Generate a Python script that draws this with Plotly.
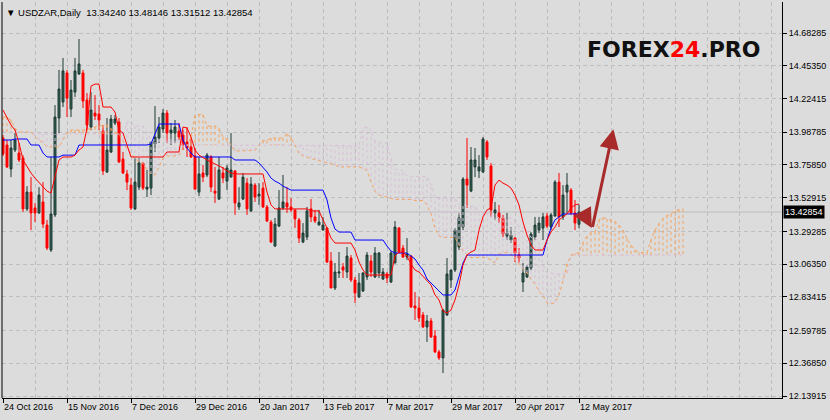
import plotly.graph_objects as go

# ---------------- data ----------------
symbol_title = "USDZAR,Daily"
last_ohlc_text = "13.34240 13.48146 13.31512 13.42854"
last_price = 13.42854

date_labels = ["24 Oct 2016", "15 Nov 2016", "7 Dec 2016", "29 Dec 2016", "20 Jan 2017",
               "13 Feb 2017", "7 Mar 2017", "29 Mar 2017", "20 Apr 2017", "12 May 2017"]
date_label_bars = [0, 16, 32, 48, 64, 80, 96, 112, 128, 144]

price_ticks = [14.68285, 14.45350, 14.22415, 13.98785, 13.75850, 13.52915, 13.29285,
               13.06350, 12.83415, 12.59785, 12.36850, 12.13915]

open_ = [13.947, 13.898, 13.730, 13.863, 13.842, 13.807, 13.450, 13.568, 13.457, 13.422,
         13.499, 13.337, 13.162, 13.408, 14.087, 14.199, 14.403, 14.150, 14.269, 14.396,
         14.403, 14.213, 14.024, 14.122, 14.115, 13.996, 13.709, 13.849, 14.052, 14.059,
         13.800, 13.695, 13.617, 13.450, 13.603, 13.772, 13.589, 13.596, 13.905, 13.947,
         14.010, 14.122, 13.982, 13.982, 13.996, 13.968, 13.919, 13.884, 13.821, 13.568,
         13.702, 13.688, 13.814, 13.575, 13.519, 13.702, 13.645, 13.673, 13.716, 13.464,
         13.519, 13.631, 13.436, 13.617, 13.540, 13.596, 13.464, 13.358, 13.190, 13.330,
         13.457, 13.492, 13.464, 13.443, 13.373, 13.218, 13.253, 13.450, 13.394, 13.337,
         13.302, 13.316, 13.085, 12.896, 13.001, 13.043, 13.008, 13.106, 12.952, 12.833,
         12.875, 12.973, 13.085, 12.973, 13.001, 12.959, 12.994, 12.938, 13.071, 13.316,
         13.176, 13.113, 13.120, 12.770, 12.756, 12.707, 12.623, 12.665, 12.560, 12.448,
         12.406, 12.707, 12.952, 13.022, 13.183, 13.323, 13.659, 13.575, 13.744, 13.716,
         13.709, 13.919, 13.751, 13.422, 13.422, 13.387, 13.260, 13.232, 13.246, 13.127,
         12.938, 12.973, 13.036, 13.253, 13.302, 13.316, 13.401, 13.323, 13.401, 13.638,
         13.394, 13.568, 13.582, 13.422, 13.3424]

high = [13.968, 13.933, 13.933, 13.982, 13.912, 13.827, 13.610, 13.673, 13.492, 13.603,
        13.638, 13.373, 13.814, 14.178, 14.424, 14.508, 14.424, 14.353, 14.508, 14.641,
        14.424, 14.262, 14.269, 14.248, 14.178, 14.038, 14.087, 14.108, 14.108, 14.087,
        13.849, 13.723, 13.666, 13.807, 13.807, 13.779, 13.723, 13.919, 14.171, 14.094,
        14.150, 14.143, 14.052, 14.073, 14.052, 14.003, 14.024, 13.947, 13.877, 13.814,
        13.758, 13.842, 13.827, 13.744, 13.814, 13.744, 13.758, 13.982, 13.723, 13.603,
        13.702, 13.666, 13.673, 13.631, 13.631, 13.638, 13.478, 13.373, 13.387, 13.582,
        13.688, 13.603, 13.526, 13.443, 13.387, 13.351, 13.464, 13.519, 13.443, 13.443,
        13.394, 13.323, 13.148, 13.071, 13.148, 13.071, 13.183, 13.127, 12.973, 13.001,
        13.008, 13.148, 13.127, 13.183, 13.148, 13.036, 13.008, 13.155, 13.365, 13.323,
        13.197, 13.246, 13.127, 12.868, 12.833, 12.728, 12.707, 12.686, 12.602, 12.462,
        12.749, 13.106, 13.022, 13.316, 13.422, 13.673, 13.947, 13.884, 13.877, 13.827,
        13.954, 13.933, 13.772, 13.499, 13.478, 13.408, 13.422, 13.323, 13.253, 13.176,
        13.071, 13.057, 13.288, 13.394, 13.394, 13.422, 13.422, 13.422, 13.652, 13.702,
        13.617, 13.702, 13.596, 13.513, 13.48146]

low = [13.821, 13.737, 13.673, 13.849, 13.779, 13.429, 13.436, 13.302, 13.358, 13.415,
       13.316, 13.162, 13.148, 13.394, 13.982, 14.164, 14.094, 14.094, 14.234, 14.389,
       14.157, 14.003, 14.003, 14.073, 14.003, 13.688, 13.702, 13.842, 14.038, 13.772,
       13.695, 13.582, 13.443, 13.443, 13.582, 13.582, 13.533, 13.547, 13.849, 13.912,
       13.982, 13.912, 13.898, 13.912, 13.933, 13.863, 13.814, 13.807, 13.582, 13.540,
       13.638, 13.673, 13.568, 13.492, 13.513, 13.631, 13.582, 13.673, 13.408, 13.443,
       13.513, 13.408, 13.429, 13.499, 13.478, 13.457, 13.358, 13.211, 13.183, 13.323,
       13.443, 13.422, 13.429, 13.316, 13.211, 13.211, 13.232, 13.358, 13.351, 13.337,
       13.302, 13.071, 12.896, 12.882, 12.966, 12.966, 12.966, 12.938, 12.791, 12.826,
       12.868, 12.952, 12.973, 12.966, 12.966, 12.952, 12.931, 12.931, 13.071, 13.141,
       13.106, 13.092, 12.756, 12.672, 12.658, 12.616, 12.518, 12.546, 12.441, 12.392,
       12.300, 12.700, 12.896, 13.008, 13.162, 13.302, 13.457, 13.568, 13.673, 13.666,
       13.702, 13.793, 13.394, 13.373, 13.351, 13.253, 13.232, 13.211, 13.078, 13.071,
       12.868, 12.966, 13.022, 13.232, 13.281, 13.232, 13.316, 13.302, 13.394, 13.323,
       13.373, 13.422, 13.408, 13.302, 13.31512]

close = [13.835, 13.744, 13.877, 13.933, 13.793, 13.450, 13.568, 13.422, 13.422, 13.547,
         13.344, 13.176, 13.415, 14.094, 14.290, 14.417, 14.227, 14.283, 14.417, 14.466,
         14.206, 14.038, 14.143, 14.101, 14.073, 13.716, 13.863, 14.080, 14.080, 13.779,
         13.702, 13.638, 13.457, 13.638, 13.772, 13.596, 13.603, 13.919, 13.954, 14.024,
         14.122, 13.982, 14.003, 14.024, 13.954, 13.898, 13.877, 13.814, 13.589, 13.695,
         13.673, 13.827, 13.603, 13.561, 13.723, 13.666, 13.737, 13.723, 13.492, 13.492,
         13.673, 13.450, 13.624, 13.533, 13.554, 13.464, 13.365, 13.218, 13.344, 13.457,
         13.499, 13.464, 13.443, 13.380, 13.246, 13.281, 13.436, 13.394, 13.365, 13.358,
         13.337, 13.078, 12.896, 13.008, 13.008, 13.022, 13.120, 12.952, 12.861, 12.931,
         13.001, 13.127, 13.008, 13.141, 13.141, 13.008, 12.966, 13.141, 13.323, 13.148,
         13.113, 13.134, 12.763, 12.756, 12.686, 12.623, 12.665, 12.553, 12.448, 12.406,
         12.742, 12.994, 13.022, 13.302, 13.387, 13.659, 13.617, 13.793, 13.793, 13.744,
         13.940, 13.814, 13.443, 13.443, 13.387, 13.274, 13.281, 13.267, 13.141, 13.106,
         13.001, 13.043, 13.274, 13.337, 13.351, 13.394, 13.330, 13.408, 13.638, 13.394,
         13.547, 13.617, 13.422, 13.351, 13.42854]

tenkan = [14.143, 14.094, 14.038, 14.003, 13.912, 13.793, 13.744, 13.702, 13.666, 13.638,
          13.603, 13.575, 13.561, 13.688, 13.793, 13.814, 13.814, 13.814, 13.827, 13.863,
          13.884, 14.017, 14.311, 14.325, 14.325, 14.164, 14.164, 14.164, 14.129, 14.003,
          13.982, 13.898, 13.814, 13.814, 13.814, 13.814, 13.814, 13.814, 13.814, 13.814,
          13.814, 13.849, 13.849, 13.849, 13.849, 14.024, 14.017, 13.954, 13.863, 13.827,
          13.807, 13.793, 13.779, 13.765, 13.751, 13.737, 13.716, 13.702, 13.695, 13.695,
          13.695, 13.695, 13.695, 13.695, 13.695, 13.695, 13.568, 13.478, 13.450, 13.450,
          13.450, 13.450, 13.450, 13.450, 13.450, 13.450, 13.450, 13.436, 13.436, 13.436,
          13.373, 13.316, 13.246, 13.211, 13.211, 13.211, 13.211, 13.211, 13.162, 13.078,
          13.022, 12.987, 12.987, 12.987, 12.987, 12.987, 12.987, 12.987, 13.120, 13.148,
          13.148, 13.120, 13.064, 13.022, 13.008, 12.980, 12.952, 12.917, 12.847, 12.812,
          12.735, 12.721, 12.742, 12.812, 12.917, 13.057, 13.127, 13.148, 13.162, 13.302,
          13.394, 13.443, 13.457, 13.617, 13.652, 13.631, 13.617, 13.596, 13.547, 13.478,
          13.358, 13.267, 13.197, 13.162, 13.162, 13.162, 13.232, 13.288, 13.323, 13.373,
          13.394, 13.415, 13.457, 13.478, 13.485]

kijun = [13.933, 13.933, 13.933, 13.940, 13.940, 13.940, 13.940, 13.898, 13.898, 13.898,
         13.842, 13.814, 13.814, 13.814, 13.814, 13.827, 13.827, 13.827, 13.827, 13.898,
         13.898, 13.898, 13.898, 13.898, 13.898, 13.898, 13.898, 13.898, 13.898, 13.898,
         13.898, 13.898, 13.898, 13.898, 13.898, 13.898, 13.898, 13.905, 13.975, 14.045,
         14.045, 14.045, 14.045, 14.045, 14.045, 13.933, 13.877, 13.842, 13.814, 13.814,
         13.814, 13.814, 13.814, 13.814, 13.814, 13.814, 13.814, 13.814, 13.793, 13.793,
         13.793, 13.793, 13.793, 13.793, 13.772, 13.744, 13.709, 13.666, 13.645, 13.631,
         13.610, 13.596, 13.582, 13.582, 13.582, 13.582, 13.582, 13.582, 13.582, 13.582,
         13.582, 13.513, 13.387, 13.309, 13.288, 13.288, 13.288, 13.288, 13.232, 13.232,
         13.232, 13.232, 13.232, 13.232, 13.232, 13.232, 13.190, 13.155, 13.141, 13.141,
         13.141, 13.141, 13.120, 13.099, 13.057, 13.022, 12.959, 12.931, 12.896, 12.868,
         12.847, 12.847, 12.847, 12.882, 12.973, 13.071, 13.127, 13.127, 13.127, 13.127,
         13.127, 13.127, 13.127, 13.127, 13.127, 13.127, 13.127, 13.127, 13.127, 13.127,
         13.127, 13.127, 13.127, 13.127, 13.127, 13.127, 13.232, 13.316, 13.373, 13.394,
         13.415, 13.415, 13.415, 13.415, 13.415]

span_a = [14.094, 14.094, 14.073, 14.017, 13.989, 13.989, 13.989, 13.989, 13.954, 13.933,
          13.912, 13.884, 13.884, 13.884, 13.884, 13.933, 13.982, 14.003, 14.003, 14.003,
          14.003, 14.003, 14.017, 14.024, 14.031, 14.038, 14.038, 14.014, 13.986, 13.972,
          13.926, 13.866, 13.842, 13.800, 13.782, 13.768, 13.723, 13.695, 13.688, 13.751,
          13.803, 13.821, 13.821, 13.821, 13.827, 13.880, 13.891, 13.957, 14.105, 14.112,
          14.112, 14.031, 14.031, 14.031, 14.014, 13.951, 13.940, 13.898, 13.856, 13.856,
          13.856, 13.856, 13.856, 13.860, 13.895, 13.930, 13.930, 13.947, 13.947, 13.947,
          13.947, 13.979, 13.947, 13.898, 13.838, 13.821, 13.810, 13.803, 13.796, 13.789,
          13.782, 13.775, 13.765, 13.758, 13.744, 13.744, 13.744, 13.744, 13.744, 13.744,
          13.733, 13.719, 13.638, 13.572, 13.547, 13.540, 13.530, 13.523, 13.516, 13.516,
          13.516, 13.516, 13.516, 13.509, 13.509, 13.509, 13.478, 13.415, 13.316, 13.260,
          13.250, 13.250, 13.250, 13.250, 13.197, 13.155, 13.127, 13.109, 13.109, 13.109,
          13.109, 13.109, 13.088, 13.071, 13.130, 13.144, 13.144, 13.130, 13.092, 13.060,
          13.032, 13.001, 12.956, 12.924, 12.872, 12.840, 12.791, 12.784, 12.794, 12.847,
          12.945, 13.064, 13.127, 13.137, 13.144, 13.214, 13.260, 13.284, 13.291, 13.373,
          13.390, 13.380, 13.373, 13.362, 13.337, 13.302, 13.242, 13.197, 13.162, 13.144,
          13.144, 13.144, 13.232, 13.302, 13.348, 13.383, 13.404, 13.415, 13.436, 13.446,
          13.450]

span_b = [13.989, 13.989, 13.989, 13.989, 13.989, 13.989, 13.989, 13.989, 13.975, 13.975,
          13.975, 13.975, 13.975, 13.975, 13.975, 13.975, 13.975, 13.975, 13.975, 13.975,
          13.975, 13.975, 13.975, 13.975, 13.975, 13.975, 13.975, 13.975, 13.975, 13.975,
          13.975, 14.059, 14.059, 14.031, 14.031, 14.031, 13.989, 13.933, 13.933, 13.933,
          13.933, 13.933, 13.933, 13.933, 13.933, 13.898, 13.898, 13.898, 13.898, 13.898,
          13.898, 13.898, 13.898, 13.898, 13.898, 13.898, 13.898, 13.898, 13.898, 13.898,
          13.898, 13.898, 13.898, 13.898, 13.898, 13.898, 13.898, 13.898, 13.898, 13.898,
          13.898, 13.898, 13.898, 13.898, 13.898, 13.898, 13.898, 13.898, 13.894, 13.894,
          13.894, 13.894, 13.894, 13.894, 13.894, 13.894, 13.894, 13.894, 13.894, 13.894,
          14.017, 14.024, 13.999, 13.926, 13.912, 13.912, 13.912, 13.803, 13.726, 13.726,
          13.716, 13.681, 13.677, 13.677, 13.677, 13.677, 13.677, 13.621, 13.533, 13.526,
          13.526, 13.526, 13.526, 13.526, 13.481, 13.481, 13.471, 13.471, 13.467, 13.432,
          13.432, 13.422, 13.408, 13.408, 13.387, 13.387, 13.387, 13.387, 13.369, 13.327,
          13.320, 13.299, 13.250, 13.250, 13.211, 13.057, 13.001, 13.001, 12.994, 12.994,
          12.994, 12.994, 13.124, 13.124, 13.124, 13.124, 13.127, 13.127, 13.127, 13.127,
          13.127, 13.127, 13.127, 13.127, 13.127, 13.127, 13.127, 13.127, 13.127, 13.127,
          13.127, 13.127, 13.127, 13.127, 13.127, 13.127, 13.127, 13.127, 13.127, 13.127,
          13.127]

# annotation arrows (bar index, price)
arrow_long_tail = (147.3, 13.314)
arrow_long_head = (152.6, 14.008)
arrow_short_tail = (144.7, 13.443)
arrow_short_head = (147.2, 13.316)

# ---------------- styles ----------------
BG = "#DCDCDC"
GRID = "#BEBEBE"
SANDY = "#F4A460"
THISTLE = "#D8BFD8"
AXFONT = dict(family="Liberation Sans, Arial, sans-serif", size=9, color="black")

bars = list(range(len(open_)))
cloud_bars = list(range(len(span_a)))

fig = go.Figure()

# cloud hatching
hx_a, hy_a, hx_b, hy_b = [], [], [], []
for i, a, b in zip(cloud_bars, span_a, span_b):
    if a > b:
        hx_a += [i, i, None]
        hy_a += [a, b, None]
    elif b > a:
        hx_b += [i, i, None]
        hy_b += [a, b, None]
fig.add_trace(go.Scatter(x=hx_a, y=hy_a, mode="lines", hoverinfo="skip",
                         line=dict(color=SANDY, width=1, dash="dot")))
fig.add_trace(go.Scatter(x=hx_b, y=hy_b, mode="lines", hoverinfo="skip",
                         line=dict(color=THISTLE, width=1, dash="dot")))
fig.add_trace(go.Scatter(x=cloud_bars, y=span_b, mode="lines", hoverinfo="skip",
                         line=dict(color=THISTLE, width=1, dash="dot")))
fig.add_trace(go.Scatter(x=cloud_bars, y=span_a, mode="lines", hoverinfo="skip",
                         line=dict(color=SANDY, width=1, dash="dot")))

fig.add_trace(go.Candlestick(
    x=bars, open=open_, high=high, low=low, close=close,
    increasing=dict(fillcolor="#2F5F4F", line=dict(color="#1E3A34", width=1)),
    decreasing=dict(fillcolor="#FF0000", line=dict(color="#FF0000", width=1)),
    whiskerwidth=0, hoverinfo="skip"))

fig.add_trace(go.Scatter(x=bars, y=kijun, mode="lines", hoverinfo="skip",
                         line=dict(color="#0000FF", width=1)))
fig.add_trace(go.Scatter(x=bars, y=tenkan, mode="lines", hoverinfo="skip",
                         line=dict(color="#FF0000", width=1)))

annotations = [
    dict(xref="paper", yref="paper", x=0, y=1, xanchor="left", yanchor="top",
         xshift=2, yshift=-3, showarrow=False, align="left",
         text="\u25BC " + symbol_title + "\u00a0\u00a0" + last_ohlc_text,
         font=dict(family="Liberation Sans, Arial, sans-serif", size=9.5, color="black")),
    dict(xref="paper", yref="paper", x=0.8615, y=0.879, xanchor="center", yanchor="middle",
         showarrow=False,
         text="<b>FOREX<span style='color:#FF0000'>24</span>.PRO</b>",
         font=dict(family="DejaVu Sans, sans-serif", size=22, color="#111111")),
    dict(xref="paper", yref="y", x=1, y=last_price, xanchor="left", yanchor="middle",
         xshift=1, showarrow=False, text=f"{last_price:.5f}", bgcolor="black",
         borderpad=1, font=dict(family="Liberation Sans, Arial, sans-serif", size=9, color="white")),
    dict(xref="x", yref="y", axref="x", ayref="y",
         x=arrow_long_head[0], y=arrow_long_head[1],
         ax=arrow_long_tail[0], ay=arrow_long_tail[1],
         text="", showarrow=True, arrowhead=2, arrowsize=1.3, arrowwidth=3,
         arrowcolor="#A82A2A", standoff=0, startstandoff=0),
    dict(xref="x", yref="y", axref="x", ayref="y",
         x=arrow_short_head[0], y=arrow_short_head[1],
         ax=arrow_short_tail[0], ay=arrow_short_tail[1],
         text="", showarrow=True, arrowhead=2, arrowsize=1.3, arrowwidth=3,
         arrowcolor="#A82A2A", standoff=0, startstandoff=0),
]

shapes = [
    dict(type="line", xref="paper", yref="y", x0=0, x1=1, y0=last_price, y1=last_price,
         line=dict(color="#BDBDBD", width=1), layer="below"),
    dict(type="line", xref="paper", yref="paper", x0=0, x1=0, y0=0, y1=1,
         line=dict(color="black", width=1)),
]

fig.update_layout(
    width=830, height=420,
    margin=dict(l=2, r=48, t=2, b=22),
    paper_bgcolor=BG, plot_bgcolor=BG,
    showlegend=False,
    annotations=annotations, shapes=shapes,
    xaxis=dict(range=[-0.25, 194.75], rangeslider=dict(visible=False),
               tickmode="array", tickvals=date_label_bars, ticktext=date_labels,
               ticks="outside", ticklen=4, tickcolor="black", tickfont=AXFONT,
               ticklabelposition="outside right",
               showline=True, linecolor="black", linewidth=1,
               showgrid=True, gridcolor=GRID, griddash="4px,3px", gridwidth=1,
               minor=dict(tickmode="linear", tick0=0, dtick=8, showgrid=True,
                          gridcolor=GRID, griddash="4px,3px", gridwidth=1),
               zeroline=False, fixedrange=True),
    yaxis=dict(side="right", range=[12.12514, 14.90008],
               tickmode="array", tickvals=price_ticks,
               ticktext=[f"{v:.5f}" for v in price_ticks],
               ticks="outside", ticklen=4, tickcolor="black", tickfont=AXFONT,
               showline=True, linecolor="black", linewidth=1,
               showgrid=True, gridcolor=GRID, griddash="4px,3px", gridwidth=1,
               zeroline=False, fixedrange=True),
)

fig.write_html("out.html", config={"displayModeBar": False},
               post_script="document.body.style.margin='0';document.body.style.padding='0';")
